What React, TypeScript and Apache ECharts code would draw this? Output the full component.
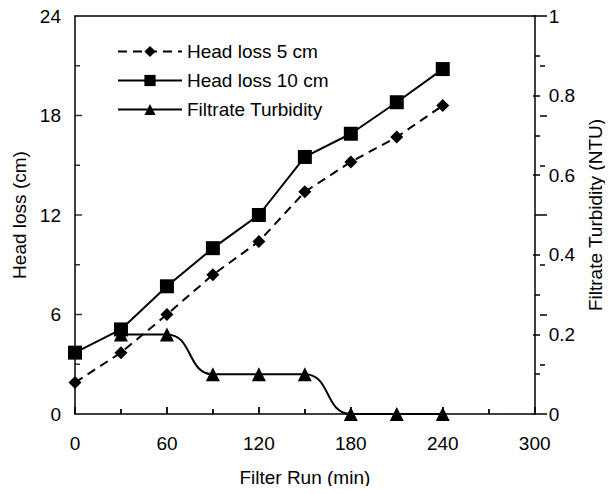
import React, { useEffect, useRef } from "react";
import * as echarts from "echarts";

const runMinutes = [0, 30, 60, 90, 120, 150, 180, 210, 240];
const headLoss5 = [1.9, 3.7, 6.0, 8.4, 10.4, 13.4, 15.2, 16.7, 18.6];
const headLoss10 = [3.7, 5.1, 7.7, 10.0, 12.0, 15.5, 16.9, 18.8, 20.8];
const turbidityMinutes = [30, 60, 90, 120, 150, 180, 210, 240];
const turbidity = [0.2, 0.2, 0.1, 0.1, 0.1, 0, 0, 0];
// inward tick marks on the bottom and left axes
const xMajorTicks = [60, 120, 180, 240];
const xMinorTicks = [30, 90, 150, 210, 270];
const yMajorTicks = [6, 12, 18];
const yMinorTicks = [3, 9, 15, 21];

const FONT = "Liberation Sans";
const FS = 19;
const GRID = { left: 75, right: 73, top: 16, bottom: 80 };
const W = 613;
const H = 494;

export default function App() {
  const ref = useRef<HTMLDivElement>(null);
  useEffect(() => {
    if (!ref.current) return;
    const chart = echarts.init(ref.current, undefined, { renderer: "svg" });
    const pair = (xs: number[], ys: number[]) => xs.map((x, i) => [x, ys[i]]);
    const plotW = W - GRID.left - GRID.right;
    const plotH = H - GRID.top - GRID.bottom;
    const axisLine = { show: true, onZero: false, lineStyle: { color: "#000", width: 1.5 } };
    const label = { color: "#000", fontFamily: FONT, fontSize: FS };
    const nameStyle = { color: "#000", fontFamily: FONT, fontSize: FS };
    const tickAxis = (extra: object) => ({
      type: "value",
      axisLine: { show: false },
      axisLabel: { show: false },
      splitLine: { show: false },
      axisTick: { show: true, length: 7, lineStyle: { color: "#000", width: 1.5 } },
      minorTick: { show: true, splitNumber: 2, length: 5, lineStyle: { color: "#000", width: 1.5 } },
      ...extra,
    });
    const tickSeries = (data: number[][], size: number[], offset: number[]) => ({
      type: "scatter",
      silent: true,
      clip: false,
      z: 5,
      data,
      symbol: "rect",
      symbolSize: size,
      symbolOffset: offset,
      itemStyle: { color: "#000" },
      emphasis: { disabled: true },
      tooltip: { show: false },
    });
    chart.setOption({
      animation: false,
      backgroundColor: "#fff",
      textStyle: { fontFamily: FONT },
      grid: GRID,
      legend: {
        orient: "vertical",
        left: 112,
        top: 37,
        itemWidth: 64,
        itemHeight: 14,
        itemGap: 10,
        textStyle: { color: "#000", fontFamily: FONT, fontSize: FS },
        data: ["Head loss 5 cm", "Head loss 10 cm", "Filtrate Turbidity"],
      },
      xAxis: [
        {
          type: "value",
          min: 0,
          max: 300,
          interval: 60,
          name: "Filter Run (min)",
          nameLocation: "middle",
          nameGap: 54,
          nameTextStyle: nameStyle,
          axisLine,
          axisTick: { show: false },
          splitLine: { show: false },
          axisLabel: { ...label, margin: 20 },
        },
        {
          type: "value",
          position: "top",
          min: 0,
          max: 300,
          interval: 60,
          axisLine,
          axisTick: { show: false },
          axisLabel: { show: false },
          splitLine: { show: false },
        },
        tickAxis({ position: "top", offset: -plotH, min: 0, max: 300, interval: 60 }),
      ],
      yAxis: [
        {
          type: "value",
          position: "left",
          min: 0,
          max: 24,
          interval: 6,
          name: "Head loss (cm)",
          nameLocation: "middle",
          nameGap: 45,
          nameTextStyle: nameStyle,
          axisLine,
          axisTick: { show: false },
          splitLine: { show: false },
          axisLabel: { ...label, margin: 14 },
        },
        {
          type: "value",
          min: 0,
          max: 1,
          interval: 0.2,
          position: "right",
          name: "Filtrate Turbidity (NTU)",
          nameLocation: "middle",
          nameGap: 35,
          nameRotate: 90,
          nameTextStyle: nameStyle,
          axisLine,
          axisTick: { show: false },
          splitLine: { show: false },
          axisLabel: { ...label, margin: 14 },
        },
        tickAxis({ position: "right", offset: -plotW, min: 0, max: 24, interval: 6 }),
        tickAxis({ position: "left", offset: -plotW, min: 0, max: 1, interval: 0.2 }),
      ],
      series: [
        tickSeries(xMajorTicks.map((v) => [v, 0]), [1.5, 7], [0, -3.5]),
        tickSeries(xMinorTicks.map((v) => [v, 0]), [1.5, 5], [0, -2.5]),
        tickSeries(yMajorTicks.map((v) => [0, v]), [7, 1.5], [3.5, 0]),
        tickSeries(yMinorTicks.map((v) => [0, v]), [5, 1.5], [2.5, 0]),
        {
          name: "Head loss 5 cm",
          type: "line",
          data: pair(runMinutes, headLoss5),
          symbol: "diamond",
          symbolSize: 13,
          itemStyle: { color: "#000" },
          lineStyle: { color: "#000", width: 2, type: [9, 6] },
        },
        {
          name: "Head loss 10 cm",
          type: "line",
          data: pair(runMinutes, headLoss10),
          symbol: "rect",
          symbolSize: 14,
          itemStyle: { color: "#000" },
          lineStyle: { color: "#000", width: 2 },
        },
        {
          name: "Filtrate Turbidity",
          type: "line",
          yAxisIndex: 1,
          data: pair(turbidityMinutes, turbidity),
          symbol: "triangle",
          symbolSize: 14,
          smooth: 0.5,
          clip: false,
          itemStyle: { color: "#000" },
          lineStyle: { color: "#000", width: 2 },
        },
      ],
    });
    return () => chart.dispose();
  }, []);
  return <div ref={ref} style={{ width: W, height: H, margin: -8 }} />;
}
